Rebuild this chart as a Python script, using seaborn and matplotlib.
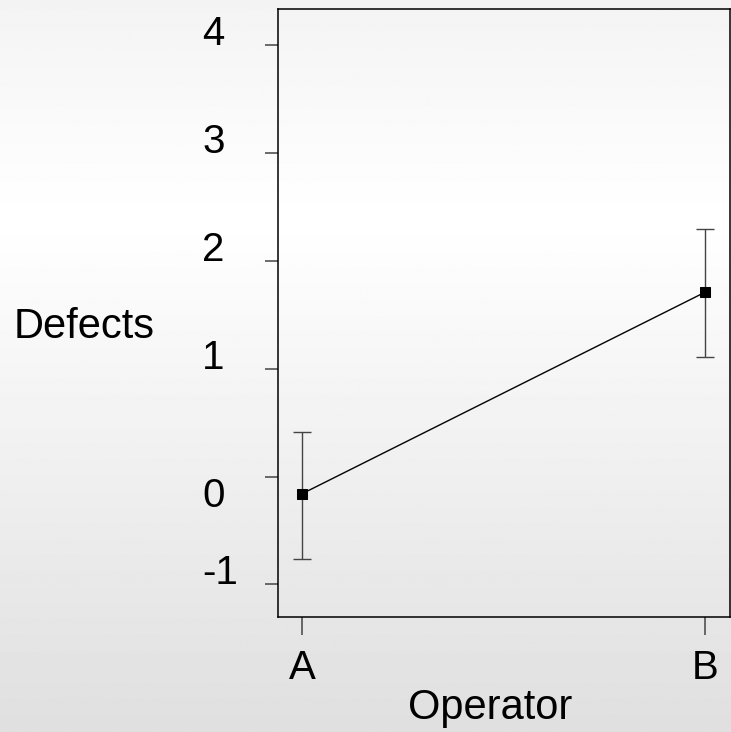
import numpy as np
import pandas as pd
import matplotlib
matplotlib.use("Agg")
import matplotlib.pyplot as plt
import seaborn as sns

# Mean defects per operator with interval bounds
operators = ["A", "B"]
mean_defects = [-0.16, 1.71]
lower_bound = [-0.765, 1.11]
upper_bound = [0.41, 2.29]
y_ticks = [-1, 0, 1, 2, 3, 4]
y_tick_labels = ["-1", "0", "1", "2", "3", "4"]

sns.set_theme(style="ticks")
plt.rcParams["font.family"] = ["Liberation Sans", "DejaVu Sans"]

df = pd.DataFrame({"Operator": operators, "Defects": mean_defects})

fig = plt.figure(figsize=(7.31, 7.32), dpi=100)

# Soft vertical grey gradient behind everything
bg = fig.add_axes([0, 0, 1, 1], zorder=-10)
rows = np.linspace(0, 1, 400)
shade = np.interp(rows, [0.0, 0.3, 1.0], [0.955, 1.0, 0.875])
bg.imshow(np.tile(shade[:, None], (1, 2)), aspect="auto", cmap="gray",
          vmin=0, vmax=1, extent=[0, 1, 0, 1], interpolation="bilinear")
bg.axis("off")

ax = fig.add_axes([0.380, 0.1571, 0.6193, 0.8306])
ax.set_facecolor("none")

sns.pointplot(data=df, x="Operator", y="Defects", color="black",
              markers="s", errorbar=None, markersize=7, linewidth=1.0, ax=ax)

means = np.array(mean_defects)
yerr = np.vstack([means - np.array(lower_bound), np.array(upper_bound) - means])
_, caps, bars = ax.errorbar(np.arange(len(operators)), means, yerr=yerr, fmt="none",
                            ecolor="#444444", elinewidth=1.0, capsize=6.5,
                            capthick=1.0, zorder=1)
for c in caps:
    c.set_color("#222222")

ax.set_xlim(-0.060, 1.062)
ax.set_ylim(-1.302, 4.333)

for s in ax.spines.values():
    s.set_color("black")
    s.set_linewidth(1.1)

ax.set_yticks(y_ticks)
ax.set_yticklabels(y_tick_labels)
ax.tick_params(axis="y", length=9.7, width=1.1, color="#444444", pad=44.6,
               labelsize=29, labelcolor="black")
for lab in ax.get_yticklabels():
    lab.set_horizontalalignment("left")
    lab.set_verticalalignment("top" if lab.get_text() == "0" else "baseline")

ax.tick_params(axis="x", length=13, width=1.1, color="#444444", pad=10,
               labelsize=29, labelcolor="black")

ax.set_xlabel("Operator", fontsize=30, color="black", va="baseline")
ax.xaxis.set_label_coords(0.469, -0.168)
ax.set_ylabel("Defects", fontsize=30, color="black", rotation=0,
              ha="center", va="baseline")
ax.yaxis.set_label_coords(-0.428, 0.459)

fig.savefig("out.png", dpi=100)
